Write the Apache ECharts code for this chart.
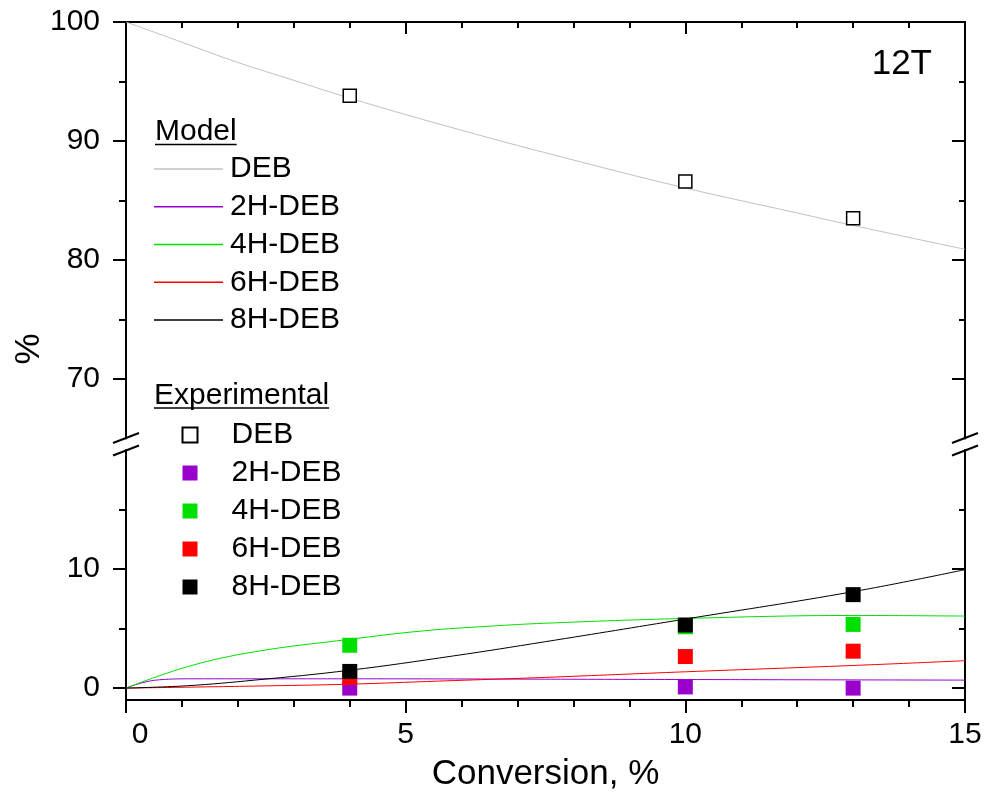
<!DOCTYPE html>
<html>
<head>
<meta charset="utf-8">
<script src="https://cdn.jsdelivr.net/npm/echarts@6/dist/echarts.min.js"></script>
<style>
html, body { margin: 0; padding: 0; background: #fff; }
#Chart { width: 999px; height: 804px; }
</style>
</head>
<body>
<div id="Chart"></div>
<script>
var FONT = '"Liberation Sans", Arial, sans-serif';

// experimental points (conversion, %)
var expX = [4, 10, 13];
var expDEB = [93.8, 86.6, 83.5];
var exp2H = [0.0, 0.1, 0.0];
var exp4H = [3.6, 5.15, 5.35];
var exp6H = [0.9, 2.65, 3.1];
var exp8H = [1.4, 5.3, 7.85];

// model curves [conversion, %]
var modelDEB = [[0, 100], [1, 98.3], [2, 96.6], [3, 95.1], [4, 93.6], [6, 90.9], [8, 88.4], [10, 86.05], [12, 83.95], [13, 82.9], [15, 80.9]];
var model2H = [[0, 0], [0.25, 0.4], [0.6, 0.7], [1.2, 0.78], [4, 0.78], [7.4, 0.75], [10, 0.72], [13, 0.69], [15, 0.67]];
var model4H = [[0, 0], [1.1, 1.8], [2.3, 3.05], [4, 4.1], [5.3, 4.8], [6.5, 5.2], [7.5, 5.45], [10, 5.85], [13, 6.1], [15, 6.05]];
var model6H = [[0, 0], [2.3, 0.17], [4, 0.33], [5.6, 0.59], [7.5, 0.9], [10, 1.37], [13, 1.9], [15, 2.3]];
var model8H = [[0, 0], [1.1, 0.2], [2.3, 0.67], [4, 1.5], [5.85, 2.7], [7.5, 3.9], [10, 5.8], [13, 8.1], [15, 9.95]];

var names = ['DEB', '2H-DEB', '4H-DEB', '6H-DEB', '8H-DEB'];
var colors = ['#c0c0c0', '#9900cc', '#00e000', '#ff0000', '#000000'];

// axis ticks
var topMajor = [70, 80, 90, 100];
var topMinor = [75, 85, 95];
var botMajor = [0, 10];
var botMinor = [5, 15];

function pairs(xs, ys) {
    var out = [];
    for (var i = 0; i < xs.length; i++) {
        out.push([xs[i], ys[i]]);
    }
    return out;
}

var black = { color: '#000', width: 2 };

function yAx(grid, pos, min, max, ticks, len, inside, withLine, withLabel) {
    return {
        type: 'value',
        gridIndex: grid,
        position: pos,
        min: min,
        max: max,
        axisLine: { show: withLine, onZero: false, lineStyle: black },
        axisTick: { show: true, inside: inside, length: len, customValues: ticks, lineStyle: black },
        axisLabel: withLabel ? {
            show: true, customValues: ticks, margin: 26,
            fontSize: 30, fontFamily: FONT, color: '#000'
        } : { show: false },
        splitLine: { show: false }
    };
}

var myChart = echarts.init(document.getElementById('Chart'));

var modelData = [model2H, model4H, model6H, model8H];
var expData = [exp2H, exp4H, exp6H, exp8H];

var series = [{
    name: 'm:DEB', type: 'line', xAxisIndex: 0, yAxisIndex: 0,
    data: modelDEB, smooth: 0.4, symbol: 'none',
    lineStyle: { color: colors[0], width: 1 }, itemStyle: { color: colors[0] }, z: 2
}];
for (var i = 0; i < 4; i++) {
    series.push({
        name: 'm:' + names[i + 1], type: 'line', xAxisIndex: 1, yAxisIndex: 4,
        data: modelData[i], smooth: 0.4, symbol: 'none',
        lineStyle: { color: colors[i + 1], width: 1 }, itemStyle: { color: colors[i + 1] }, z: 2
    });
}
series.push({
    name: 'e:DEB', type: 'scatter', xAxisIndex: 0, yAxisIndex: 0,
    data: pairs(expX, expDEB), symbol: 'rect', symbolSize: 13,
    itemStyle: { color: '#fff', borderColor: '#000', borderWidth: 1.5, opacity: 1 }, z: 3
});
for (var j = 0; j < 4; j++) {
    series.push({
        name: 'e:' + names[j + 1], type: 'scatter', xAxisIndex: 1, yAxisIndex: 4,
        data: pairs(expX, expData[j]), symbol: 'rect', symbolSize: 15,
        itemStyle: { color: colors[j + 1], opacity: 1 }, z: 3 + j
    });
}

function strip(name) { return name.slice(2); }

var option = {
    animation: false,
    backgroundColor: '#fff',
    grid: [
        { left: 126, right: 34, top: 22, height: 416.5 },
        { left: 126, right: 34, top: 450, height: 250 }
    ],
    xAxis: [{
        type: 'value', gridIndex: 0, position: 'top', min: 0, max: 15, interval: 5,
        axisLine: { onZero: false, lineStyle: black },
        axisTick: { inside: true, length: 12, lineStyle: black },
        minorTick: { show: true, splitNumber: 5, length: 6, lineStyle: black },
        axisLabel: { show: false },
        splitLine: { show: false }
    }, {
        type: 'value', gridIndex: 1, position: 'bottom', min: 0, max: 15, interval: 5,
        axisLine: { onZero: false, lineStyle: black },
        axisTick: { inside: false, length: 13, lineStyle: black },
        minorTick: { show: true, splitNumber: 5, length: 7, lineStyle: black },
        axisLabel: {
            margin: 20, fontSize: 30, fontFamily: FONT, color: '#000',
            formatter: function (v) { return v === 0 ? '{z|0}' : String(v); },
            rich: { z: { fontSize: 30, fontFamily: FONT, color: '#000', padding: [0, 0, 0, 28] } }
        },
        splitLine: { show: false },
        name: 'Conversion, %', nameLocation: 'middle', nameGap: 57,
        nameTextStyle: { fontSize: 35, fontFamily: FONT, color: '#000' }
    }],
    yAxis: [
        yAx(0, 'left', 65, 100, topMajor, 13, false, true, true),
        yAx(0, 'left', 65, 100, topMinor, 7, false, false, false),
        yAx(0, 'right', 65, 100, topMajor, 13, true, true, false),
        yAx(0, 'right', 65, 100, topMinor, 6, true, false, false),
        yAx(1, 'left', -1, 20, botMajor, 13, false, true, true),
        yAx(1, 'left', -1, 20, botMinor, 7, false, false, false),
        yAx(1, 'right', -1, 20, botMajor, 13, true, true, false),
        yAx(1, 'right', -1, 20, botMinor, 6, true, false, false)
    ],
    legend: [{
        data: names.map(function (n) { return 'm:' + n; }),
        orient: 'vertical', left: 154, top: 154, padding: 0,
        icon: 'rect', itemWidth: 69, itemHeight: 1.4, itemGap: 7.75,
        selectedMode: false, formatter: strip,
        textStyle: { fontSize: 30, fontFamily: FONT, color: '#000', lineHeight: 30, padding: [0, 0, 0, 2] }
    }, {
        data: names.map(function (n) { return 'e:' + n; }),
        orient: 'vertical', left: 181.5, top: 420, padding: 0,
        itemWidth: 15, itemHeight: 15, itemGap: 8,
        selectedMode: false, formatter: strip,
        textStyle: { fontSize: 30, fontFamily: FONT, color: '#000', lineHeight: 30, padding: [0, 0, 0, 29] }
    }],
    series: series
};
myChart.setOption(option);

// titles, labels and axis-break marks
function textWidth(s, size) {
    var ctx = document.createElement('canvas').getContext('2d');
    ctx.font = size + 'px ' + FONT;
    return ctx.measureText(s).width;
}
var yTop = myChart.convertToPixel({ yAxisIndex: 0 }, 65);
var yBot = myChart.convertToPixel({ yAxisIndex: 4 }, 20);
var yMid = (yTop + yBot) / 2;
var xL = myChart.convertToPixel({ xAxisIndex: 1 }, 0);
var xR = myChart.convertToPixel({ xAxisIndex: 1 }, 15);

var graphic = [];
[xL, xR].forEach(function (ax) {
    [-6.3, 6.3].forEach(function (d) {
        graphic.push({
            type: 'line', silent: true, z: 10,
            shape: { x1: ax - 13, y1: yMid + d + 5, x2: ax + 13, y2: yMid + d - 5 },
            style: { stroke: '#000', lineWidth: 2 }
        });
    });
});
function heading(txt, x, y) {
    var w = textWidth(txt, 30);
    graphic.push({
        type: 'text', x: x, y: y, silent: true,
        style: { text: txt, fontSize: 30, fontFamily: FONT, fill: '#000', textAlign: 'left', textVerticalAlign: 'middle' }
    });
    graphic.push({
        type: 'line', silent: true,
        shape: { x1: x, y1: y + 12.5, x2: x + w, y2: y + 12.5 },
        style: { stroke: '#000', lineWidth: 1.5 }
    });
}
heading('Model', 155, 132);
heading('Experimental', 154, 395.5);
graphic.push({
    type: 'text', x: 932, y: 64.5, silent: true,
    style: { text: '12T', fontSize: 35, fontFamily: FONT, fill: '#000', textAlign: 'right', textVerticalAlign: 'middle' }
});
graphic.push({
    type: 'text', x: 29.5, y: 349, rotation: Math.PI / 2, silent: true,
    style: { text: '%', fontSize: 35, fontFamily: FONT, fill: '#000', textAlign: 'center', textVerticalAlign: 'middle' }
});
myChart.setOption({ graphic: graphic });

window.addEventListener('resize', function () {
    myChart.resize();
});
</script>
</body>
</html>
